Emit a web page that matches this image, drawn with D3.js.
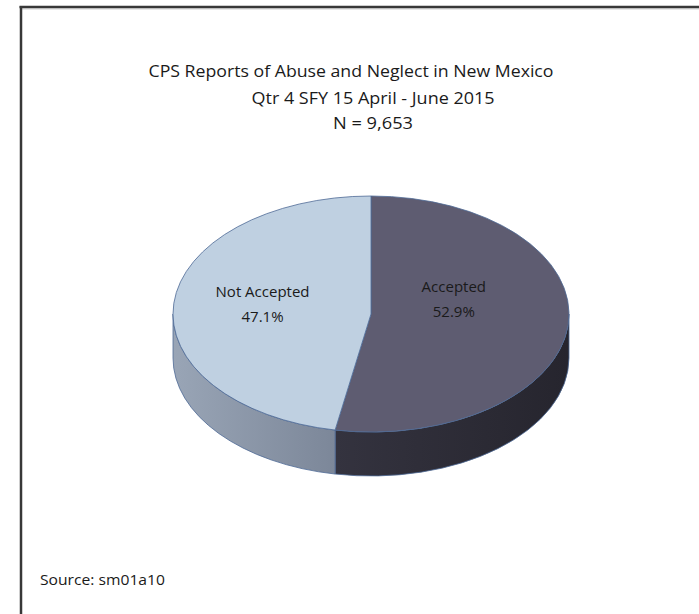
<!DOCTYPE html>
<html>
<head>
<meta charset="utf-8">
<script src="https://cdn.jsdelivr.net/npm/d3@7"></script>
<style>
  html, body { margin: 0; padding: 0; background: #fff; }
  svg { display: block; }
  text { font-family: "Open Sans", "Liberation Sans", sans-serif; fill: #1a1a1a; }
</style>
</head>
<body>
<svg id="chart" width="699" height="614"></svg>
<script>
// ---- data ----
const categories = ["Accepted", "Not Accepted"];
const percentValues = [52.9, 47.1];
const titleLines = [
  "CPS Reports of Abuse and Neglect in New Mexico",
  "Qtr 4 SFY 15 April - June 2015",
  "N = 9,653"
];
const sourceNote = "Source:  sm01a10";

// ---- styles / layout ----
const topColors = ["#5e5c71", "#bfd0e1"];
const sideColorsA = ["#34333f", "#26252e"];
const sideColorsB = ["#99a5b6", "#7c8799"];
const cx = 371, cy = 314, rx = 198, ry = 118, depth = 44;
const labelFrac = [0.42, 0.55];
const labelDy = [-22, -17];

const svg = d3.select("#chart");

// frame
svg.append("line").attr("x1", 20).attr("x2", 699).attr("y1", 9).attr("y2", 9)
  .attr("stroke", "#cfcfcf").attr("stroke-width", 1);
svg.append("line").attr("x1", 19.5).attr("x2", 699).attr("y1", 7).attr("y2", 7)
  .attr("stroke", "#383838").attr("stroke-width", 2.5);
svg.append("line").attr("x1", 21).attr("x2", 21).attr("y1", 6).attr("y2", 614)
  .attr("stroke", "#383838").attr("stroke-width", 2.5);

// title
const titleX = [351, 373, 373];
const titleY = [77, 104, 129];
const titleW = [405, 243, 80];
svg.selectAll("text.title").data(titleLines).join("text")
  .attr("class", "title")
  .attr("x", (d, i) => titleX[i])
  .attr("y", (d, i) => titleY[i])
  .attr("text-anchor", "middle")
  .attr("font-size", 16)
  .attr("textLength", (d, i) => titleW[i])
  .attr("lengthAdjust", "spacingAndGlyphs")
  .text(d => d);

// scales mapping unit circle to ellipse
const xs = d3.scaleLinear().domain([-1, 1]).range([cx - rx, cx + rx]);
const ys = d3.scaleLinear().domain([-1, 1]).range([cy - ry, cy + ry]);
const px = a => xs(Math.sin(a));
const py = a => ys(-Math.cos(a));

const pie = d3.pie().sort(null).value(d => d)(percentValues);

const defs = svg.append("defs");
function grad(id, c) {
  const g = defs.append("linearGradient").attr("id", id)
    .attr("x1", "0%").attr("x2", "100%").attr("y1", "0%").attr("y2", "0%");
  g.append("stop").attr("offset", "0%").attr("stop-color", c[0]);
  g.append("stop").attr("offset", "100%").attr("stop-color", c[1]);
}
grad("sideA", sideColorsA);
grad("sideB", sideColorsB);
const sideFills = ["url(#sideA)", "url(#sideB)"];

// side walls (visible front half: PI/2 .. 3PI/2)
pie.forEach((p, i) => {
  const a0 = Math.max(p.startAngle, Math.PI / 2);
  const a1 = Math.min(p.endAngle, 3 * Math.PI / 2);
  if (a1 <= a0) return;
  const path = `M${px(a0)},${py(a0)} A${rx},${ry} 0 0 1 ${px(a1)},${py(a1)}` +
    ` L${px(a1)},${py(a1) + depth} A${rx},${ry} 0 0 0 ${px(a0)},${py(a0) + depth} Z`;
  svg.append("path").attr("d", path).attr("fill", sideFills[i])
    .attr("stroke", "#4e6a96").attr("stroke-width", 0.8);
});

// top faces
pie.forEach((p, i) => {
  const large = (p.endAngle - p.startAngle) > Math.PI ? 1 : 0;
  const path = `M${cx},${cy} L${px(p.startAngle)},${py(p.startAngle)}` +
    ` A${rx},${ry} 0 ${large} 1 ${px(p.endAngle)},${py(p.endAngle)} Z`;
  svg.append("path").attr("d", path).attr("fill", topColors[i])
    .attr("stroke", "#4e6a96").attr("stroke-width", 0.8);
});

// labels
pie.forEach((p, i) => {
  const mid = (p.startAngle + p.endAngle) / 2;
  const lx = xs(labelFrac[i] * Math.sin(mid));
  const ly = cy + labelDy[i];
  const t = svg.append("text").attr("text-anchor", "middle").attr("font-size", 15);
  t.append("tspan").attr("x", lx).attr("y", ly).text(categories[i]);
  t.append("tspan").attr("x", lx).attr("y", ly + 25).text(percentValues[i].toFixed(1) + "%");
});

// source
svg.append("text").attr("x", 40).attr("y", 585).attr("font-size", 14)
  .attr("textLength", 125).attr("lengthAdjust", "spacingAndGlyphs")
  .text(sourceNote);
</script>
</body>
</html>
